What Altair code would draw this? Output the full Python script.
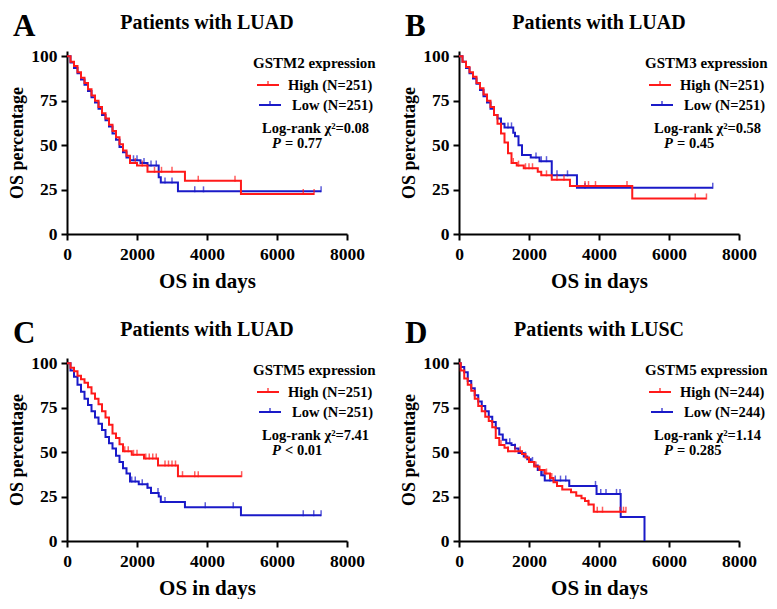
import altair as alt
import pandas as pd

FONT = "Liberation Serif"
RED = "#ff1a1a"
BLUE = "#1a1ac8"

# ---------------- Panel A (GSTM2, LUAD) ----------------
a_high_t = [0, 100, 200, 300, 400, 500, 600, 700, 800, 900, 1000, 1100, 1200, 1300, 1400, 1500, 1600, 1700, 1800, 2000, 2300, 3370, 4970, 7060]
a_high_s = [100, 97, 94.5, 91, 88, 85, 81.5, 78, 75, 71.5, 68, 65, 61.5, 58, 54.5, 50.5, 47, 44, 40, 38.5, 35, 30, 22.5, 22.5]
a_high_c = [1950, 2150, 2500, 2700, 3000, 3750, 4800, 6750, 7060]
a_low_t = [0, 100, 200, 300, 400, 500, 600, 700, 800, 900, 1000, 1100, 1200, 1300, 1400, 1500, 1600, 1700, 1800, 2100, 2300, 2620, 2680, 3170, 7260]
a_low_s = [100, 96.5, 93.5, 90.5, 87, 84, 80.5, 77, 74, 70.5, 67, 64, 60.5, 56.5, 53, 49, 46, 43, 41.5, 40, 38.5, 32, 29, 24, 24]
a_low_c = [1900, 2000, 2200, 2400, 2550, 2800, 3000, 3650, 3900, 7260]

# ---------------- Panel B (GSTM3, LUAD) ----------------
b_high_t = [0, 100, 200, 300, 400, 500, 600, 700, 800, 900, 1000, 1100, 1200, 1300, 1400, 1500, 1650, 1850, 2250, 2350, 2650, 3170, 4950, 7070]
b_high_s = [100, 97, 94, 91, 88.5, 85, 82, 78.5, 75, 71.5, 67, 62, 56.5, 51.5, 45.5, 40, 38.5, 37, 35, 33, 30.5, 27, 20, 20]
b_high_c = [1550, 1700, 1900, 2000, 2100, 2500, 2800, 3000, 3600, 3700, 3900, 4800, 6750, 7070]
b_low_t = [0, 100, 200, 300, 400, 500, 600, 700, 800, 900, 1000, 1100, 1200, 1300, 1550, 1600, 1700, 1800, 2050, 2300, 2650, 3370, 7250]
b_low_s = [100, 97, 93.5, 90.5, 87.5, 84.5, 81, 77.5, 74, 70.5, 67, 65, 62, 60, 57, 55, 50, 44.5, 43, 41, 33, 26, 26]
b_low_c = [1400, 1500, 2200, 2350, 2500, 2800, 3100, 3600, 7250]

# ---------------- Panel C (GSTM5, LUAD) ----------------
c_high_t = [0, 100, 200, 300, 400, 500, 600, 700, 800, 900, 1000, 1100, 1200, 1300, 1400, 1500, 1600, 1850, 2200, 2600, 3170, 4990]
c_high_s = [100, 97.5, 95.5, 93, 91, 89, 86.5, 83, 80, 77, 73, 69.5, 65.5, 60.5, 58, 54.5, 50.5, 48.5, 46.5, 42.5, 36.5, 36.5]
c_high_c = [1650, 1750, 1900, 2000, 2250, 2350, 2450, 2550, 2800, 2900, 3000, 3100, 3300, 3650, 3750, 4990]
c_low_t = [0, 100, 200, 300, 400, 500, 600, 700, 800, 900, 1000, 1100, 1200, 1300, 1400, 1500, 1600, 1700, 1800, 2050, 2300, 2400, 2620, 2680, 3370, 4970, 7260]
c_low_s = [100, 96, 92.5, 88, 84, 80, 76.5, 73, 69.5, 66, 62.5, 58.5, 55, 52, 48, 44.5, 41, 38, 33.5, 32, 30, 27, 25, 22, 19, 14.5, 14.5]
c_low_c = [1850, 1950, 2150, 2300, 2600, 2800, 3950, 4750, 6750, 7050, 7260]

# ---------------- Panel D (GSTM5, LUSC) ----------------
d_high_t = [0, 50, 150, 250, 350, 450, 550, 650, 750, 850, 950, 1050, 1150, 1300, 1400, 1800, 1900, 2000, 2150, 2300, 2450, 2600, 2700, 2800, 2950, 3200, 3350, 3500, 3600, 3700, 3850, 4770]
d_high_s = [100, 96, 91.5, 88, 84.5, 80, 76, 73, 70, 67.5, 64, 58, 54, 52.5, 50.5, 49, 47, 44.5, 42, 40, 38, 35.5, 33, 31, 29, 27.5, 25.5, 24, 22.5, 20.5, 16.5, 16.5]
d_high_c = [1200, 1400, 1600, 1750, 2000, 2200, 2500, 2650, 3700, 3950, 4100, 4600, 4700, 4770]
d_low_t = [0, 50, 150, 250, 350, 450, 550, 650, 750, 850, 950, 1050, 1150, 1250, 1350, 1500, 1600, 1700, 1850, 1950, 2050, 2150, 2250, 2350, 2450, 3150, 3930, 4620, 5300]
d_low_s = [100, 98, 95, 90, 86, 82, 78.5, 76, 73, 70, 67, 63.5, 60, 57, 55, 54, 52, 49.5, 47.5, 46, 44.5, 42.5, 40, 37, 34, 31, 26.5, 13.5, 0]
d_low_c = [1450, 1600, 1900, 2100, 2400, 2600, 2750, 2900, 3050, 3900, 4050, 4200, 4500, 4600]

panels = [
    dict(letter="A", title="Patients with LUAD", gene="GSTM2", n=251, chi="0.08", pop="=", pval="0.77",
         high=(a_high_t, a_high_s, a_high_c), low=(a_low_t, a_low_s, a_low_c)),
    dict(letter="B", title="Patients with LUAD", gene="GSTM3", n=251, chi="0.58", pop="=", pval="0.45",
         high=(b_high_t, b_high_s, b_high_c), low=(b_low_t, b_low_s, b_low_c)),
    dict(letter="C", title="Patients with LUAD", gene="GSTM5", n=251, chi="7.41", pop="<", pval="0.01",
         high=(c_high_t, c_high_s, c_high_c), low=(c_low_t, c_low_s, c_low_c)),
    dict(letter="D", title="Patients with LUSC", gene="GSTM5", n=244, chi="1.14", pop="=", pval="0.285",
         high=(d_high_t, d_high_s, d_high_c), low=(d_low_t, d_low_s, d_low_c)),
]

W, H = 280, 183


def step_value(ts, ss, t):
    v = ss[0]
    for ti, si in zip(ts, ss):
        if ti <= t:
            v = si
    return v


one = pd.DataFrame({"k": [0]})


def txt(text, x, y, size=14.5, style="normal", align="left", weight="bold"):
    return alt.Chart(one).mark_text(
        text=text, font=FONT, fontSize=size, fontWeight=weight, fontStyle=style,
        align=align, baseline="alphabetic", color="black"
    ).encode(x=alt.value(x), y=alt.value(y))


def panel(p):
    xs = alt.Scale(domain=[0, 8000], nice=False)
    ys = alt.Scale(domain=[0, 103], nice=False)
    xax = alt.Axis(values=[0, 2000, 4000, 6000, 8000], format="d", title="OS in days",
                   labelFlush=False, grid=False)
    yax = alt.Axis(values=[0, 25, 50, 75, 100], format="d", title="OS percentage", grid=False)
    layers = []
    for key, col in (("low", BLUE), ("high", RED)):
        ts, ss, cs = p[key]
        df = pd.DataFrame({"t": ts, "s": ss})
        layers.append(
            alt.Chart(df).mark_line(interpolate="step-after", strokeWidth=2, color=col).encode(
                x=alt.X("t:Q", scale=xs, axis=xax), y=alt.Y("s:Q", scale=ys, axis=yax)
            )
        )
        cdf = pd.DataFrame({"t": cs, "s": [step_value(ts, ss, c) for c in cs]})
        layers.append(
            alt.Chart(cdf).mark_tick(orient="vertical", size=6, thickness=1.5, color=col, yOffset=-2).encode(
                x=alt.X("t:Q", scale=xs), y=alt.Y("s:Q", scale=ys)
            )
        )
    # legend
    lx = 186
    layers.append(txt(f"{p['gene']} expression", lx, 17, size=15))
    layers.append(alt.Chart(one).mark_rule(color=RED, strokeWidth=2).encode(
        x=alt.value(lx + 4), x2=alt.value(lx + 26), y=alt.value(34)))
    layers.append(alt.Chart(one).mark_rule(color=RED, strokeWidth=1.2).encode(
        x=alt.value(lx + 15), y=alt.value(30), y2=alt.value(34)))
    layers.append(txt(f"High (N={p['n']})", lx + 35, 39))
    layers.append(alt.Chart(one).mark_rule(color=BLUE, strokeWidth=2).encode(
        x=alt.value(lx + 6), x2=alt.value(lx + 28), y=alt.value(54)))
    layers.append(alt.Chart(one).mark_rule(color=BLUE, strokeWidth=1.2).encode(
        x=alt.value(lx + 17), y=alt.value(50), y2=alt.value(54)))
    layers.append(txt(f"Low (N={p['n']})", lx + 39, 59))
    layers.append(txt(f"Log-rank  \u03c7\u00b2={p['chi']}", lx + 9, 82))
    layers.append(txt("P", lx + 19, 97, style="italic"))
    layers.append(txt(f"{p['pop']} {p['pval']}", lx + 32, 97))
    # titles
    layers.append(txt(p["title"], W / 2, -22, size=20, align="center"))
    layers.append(txt(p["letter"], -54, -15, size=31))
    return alt.layer(*layers).properties(width=W, height=H)


chart = alt.concat(
    *[panel(p) for p in panels], columns=2,
    spacing={"row": 124, "column": 112}, bounds="flush"
).properties(
    padding={"top": 3, "left": 0, "right": 0, "bottom": 0}, background="white"
).configure_view(stroke=None).configure_axis(
    domainColor="black", domainWidth=2, tickColor="black", tickWidth=2, tickSize=6,
    labelFont=FONT, labelFontSize=17.5, labelFontWeight="bold", labelColor="black", labelPadding=4,
    titleFont=FONT, titleFontWeight="bold", titleColor="black",
).configure_axisX(titleFontSize=21, titlePadding=8, labelPadding=5).configure_axisY(
    titleFontSize=18, titlePadding=4)

chart.save("out.html", embed_options={"renderer": "svg", "actions": False})
